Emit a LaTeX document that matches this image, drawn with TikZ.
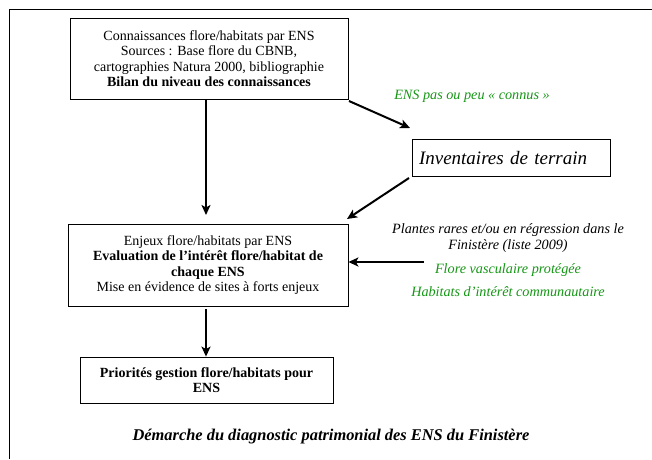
\documentclass[tikz,border=0pt]{standalone}
\usepackage{fontspec}
\setmainfont{Liberation Serif}
\usetikzlibrary{positioning,arrows.meta}
\definecolor{vert}{RGB}{20,150,20}

\begin{document}
\begin{tikzpicture}[x=1pt, y=-1pt,
    boite/.style={draw, line width=0.8pt, align=center, inner sep=2pt, font=\fontsize{14}{15.5}\selectfont},
    fleche/.style={line width=2pt, -{Stealth[length=10pt, width=9pt, inset=2.5pt]}},
    droite/.style={font=\fontsize{14.2}{16.5}\selectfont\itshape},
    vertlab/.style={droite, text=vert}]

      \useasboundingbox (0,0) rectangle (652,459);

      % Cadre
      \draw[line width=0.8pt] (652,9.5) -- (9.5,9.5) -- (9.5,459);

      % Boites
      \node[boite, minimum width=278pt, minimum height=81pt] (connais) at (209,58.5)
        {Connaissances flore/habitats par ENS\\
         Sources : Base flore du CBNB,\\
         cartographies Natura 2000, bibliographie\\
         \textbf{Bilan du niveau des connaissances}};

      \node[boite, text width=184pt, align=left, inner xsep=7pt, minimum height=37pt,
            font=\fontsize{19}{22}\selectfont\itshape] (invent) at (511,157.5)
        {Inventaires de terrain};

      \node[boite, minimum width=280pt, minimum height=82pt] (enjeux) at (208,265)
        {Enjeux flore/habitats par ENS\\
         \textbf{Evaluation de l'intérêt flore/habitat de}\\
         \textbf{chaque ENS}\\
         Mise en évidence de sites à forts enjeux};

      \node[boite, minimum width=253pt, minimum height=46pt] (priorites) at (206.5,380)
        {\textbf{Priorités gestion flore/habitats pour}\\ \textbf{ENS}};

      % Textes a droite
      \node[vertlab] (peuconnus) at (472,96) {ENS pas ou peu « connus »};
      \node[droite, align=center] (plantes) at (508,238)
        {Plantes rares et/ou en régression dans le\\ Finistère (liste 2009)};
      \node[vertlab] (flore) at (508,270) {Flore vasculaire protégée};
      \node[vertlab] (habitats) at (508,292) {Habitats d'intérêt communautaire};

      % Titre
      \node[font=\fontsize{16.4}{19}\selectfont\bfseries\itshape] (titre) at (331,437)
        {Démarche du diagnostic patrimonial des ENS du Finistère};

      % Fleches
      \coordinate (d1) at (349,101);
      \coordinate (a1) at (410,128);
      \coordinate (d2) at (409,178);
      \coordinate (a2) at (347,219);
      \coordinate (d3) at (424,262);
      \draw[fleche] (connais.south -| 206,0) -- (206,215);
      \draw[fleche] (d1) -- (a1);
      \draw[fleche] (d2) -- (a2);
      \draw[fleche] (d3) -- (d3 -| enjeux.east);
      \draw[fleche] (206,309) -- (priorites.north -| 206,0);

\end{tikzpicture}
\end{document}
